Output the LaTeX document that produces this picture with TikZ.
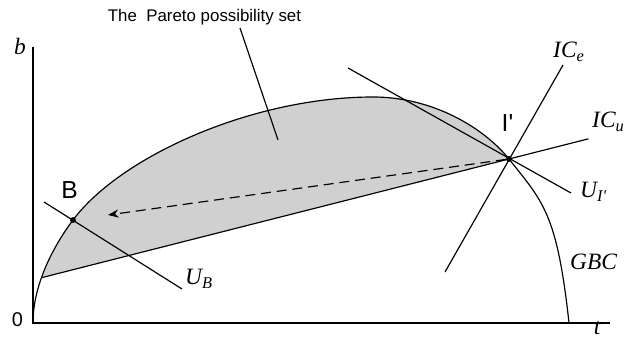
\documentclass[tikz,border=0pt]{standalone}
\usepackage{amsmath}
\usepackage{fontspec}
\setmainfont{Liberation Serif}
\setsansfont{Liberation Sans}
\usepackage{tikz}
\usetikzlibrary{positioning,arrows.meta,calc}
\definecolor{ParetoFill}{HTML}{D0D0D0}

\begin{document}
\begin{tikzpicture}[x=0.03cm,y=0.03cm,
  every node/.style={inner sep=0pt},
  ax/.style={line width=1.3pt},
  ln/.style={line width=1pt},
  dot/.style={circle,fill=black,minimum size=5pt},
  mlab/.style={font=\fontsize{20}{23}\selectfont\itshape, anchor=base west},
  slab/.style={font=\fontsize{21}{24}\selectfont\sffamily, anchor=base}]
  \useasboundingbox (-33,-19) rectangle (595,323);
  % axes
  \coordinate (O) at (0,0);
  \coordinate (ytop) at (0,276);
  \coordinate (xend) at (577,0);
  \draw[ax] (ytop) -- (O) -- (xend);
  \node[font=\fontsize{20}{23}\selectfont\itshape, anchor=base] (blab) at (-13,268) {b};
  \node[font=\fontsize{20}{23}\selectfont\itshape, anchor=base] (tlab) at (564,-12) {t};
  \node[font=\fontsize{17}{20}\selectfont\sffamily, anchor=base] (zero) at (-15.5,-4) {0};
  % points on the GBC
  \coordinate (top) at (340,226);
  \coordinate (gEnd) at (536,0);
  \coordinate (lowL) at (8.5,45.3);
  \coordinate (pBc) at (40,103);
  \coordinate (pIc) at (476,164);
  % Pareto set
  \begin{scope}
    \clip ($(lowL)!-0.2!(pIc)$) -- (pIc) -- (476,300) -- (-90,300) -- cycle;
    \fill[ParetoFill] (O) .. controls (0,40) and (22,79) .. (pBc)
      .. controls (88,167) and (220,226) .. (top)
      .. controls (400,226) and (451,195) .. (pIc) -- cycle;
  \end{scope}
  % GBC
  \draw[ln] (O) .. controls (0,40) and (22,79) .. (pBc)
    .. controls (88,167) and (220,226) .. (top)
    .. controls (400,226) and (451,195) .. (pIc)
    .. controls (510,121) and (524,110) .. (gEnd);
  \node[dot] (pB) at (pBc) {};
  \node[dot] (pI) at (pIc) {};
  \node[slab] (Blab) at (36.5,124) {B};
  \node[slab] (Ilab) at (474.5,191) {I\textquotesingle};
  % lines through the points
  \coordinate (icuR) at ($(lowL)!1.17!(pI)$);
  \draw[ln] (lowL) -- (pI.center) -- (icuR);
  \coordinate (iceT) at (530,258);
  \coordinate (iceB) at (412,51);
  \draw[ln] (iceT) -- (iceB);
  \coordinate (uiT) at (315,255);
  \coordinate (uiB) at (538,130);
  \draw[ln] (uiT) -- (uiB);
  \coordinate (ubT) at (11,121);
  \coordinate (ubB) at (149,34);
  \draw[ln] (ubT) -- (ubB);
  \coordinate (arr) at (75,108);
  \draw[ln, dash pattern=on 8.5pt off 5pt, -{Stealth[length=9pt,width=7pt]}] (pI) -- (arr);
  % labels
  \node[mlab] (ICe) at (520,265) {IC\textsubscript{e}};
  \node[mlab] (ICu) at (559,195) {IC\textsubscript{u}};
  \node[mlab] (UI) at (547,125) {U\textsubscript{I\textquotesingle}};
  \node[mlab] (GBC) at (537,53) {GBC};
  \node[mlab] (UB) at (152,38) {U\textsubscript{B}};
  \node[font=\fontsize{14.4}{17}\selectfont\sffamily, anchor=base] (title) at (171.5,301) {The\ \ Pareto possibility set};
  \coordinate (leadT) at (207,295);
  \coordinate (leadB) at (245,183);
  \draw[ln] (leadT) -- (leadB);
\end{tikzpicture}
\end{document}
